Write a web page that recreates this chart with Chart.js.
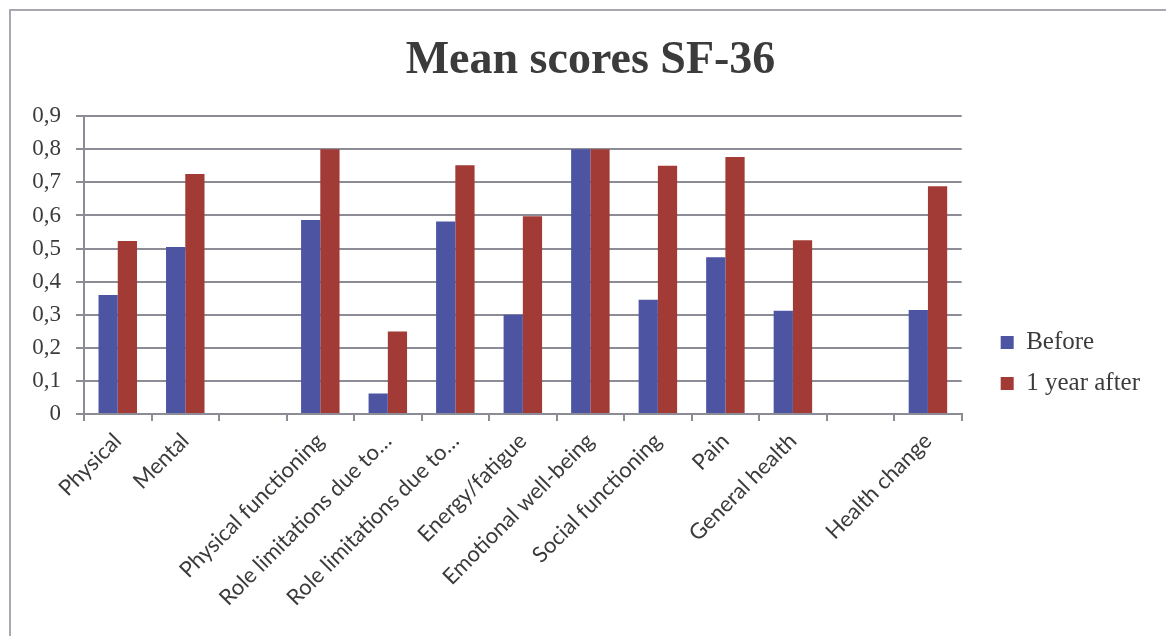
<!DOCTYPE html>
<html>
<head>
<meta charset="utf-8">
<script src="https://cdn.jsdelivr.net/npm/chart.js@4.4.1/dist/chart.umd.min.js"></script>
<style>
  html, body { margin: 0; padding: 0; background: #fff; overflow: hidden; }
  #frame {
    position: absolute; left: 9px; top: 9px; width: 1200px; height: 700px;
    border: 2px solid #a8a8b0; box-sizing: border-box;
  }
  #wrap { position: absolute; left: 0; top: 0; width: 1166px; height: 636px; }
</style>
</head>
<body>
<div id="frame"></div>
<div id="wrap"><canvas id="grafico"></canvas></div>
<script>
// Dados
const categorias = [
  "Physical", "Mental", "", "Physical functioning",
  "Role limitations due to…", "Role limitations due to…",
  "Energy/fatigue", "Emotional well-being", "Social functioning",
  "Pain", "General health", "", "Health change"
];
const antes = [0.36, 0.505, null, 0.586, 0.062, 0.582, 0.30, 0.80, 0.345, 0.474, 0.312, null, 0.314];
const depois = [0.523, 0.725, null, 0.80, 0.249, 0.752, 0.598, 0.80, 0.75, 0.777, 0.525, null, 0.688];
const nomesSeries = ["Before", "1 year after"];
const yTicks = [0, 0.1, 0.2, 0.3, 0.4, 0.5, 0.6, 0.7, 0.8, 0.9];

const corTexto = "#3b3b3b";
const corGrade = "#8c8c96";

// Legenda e título deslocados como no Excel
const ajustarCaixas = {
  id: "ajustarCaixas",
  afterLayout(chart) {
    const leg = chart.legend;
    if (leg) {
      leg.left += 23; leg.right += 23;
      leg.top += 45; leg.bottom += 45;
    }
    const tit = chart.titleBlock;
    if (tit) {
      tit.left += 27; tit.right += 27;
    }
  }
};

const ctx = document.getElementById("grafico").getContext("2d");
new Chart(ctx, {
  type: "bar",
  data: {
    labels: categorias,
    datasets: [
      { label: nomesSeries[0], data: antes, backgroundColor: "#4d55a3", borderWidth: 0 },
      { label: nomesSeries[1], data: depois, backgroundColor: "#a23b36", borderWidth: 0 }
    ]
  },
  plugins: [ajustarCaixas],
  options: {
    responsive: true,
    maintainAspectRatio: false,
    animation: false,
    categoryPercentage: 0.57,
    barPercentage: 1.0,
    layout: { padding: { left: 0, right: 39, top: 0, bottom: 0 } },
    plugins: {
      title: {
        display: true,
        text: "Mean scores SF-36",
        color: corTexto,
        font: { family: "Liberation Serif", size: 46, weight: "bold" },
        padding: { top: 34, bottom: 27 }
      },
      legend: {
        position: "right",
        labels: {
          color: corTexto,
          font: { family: "Liberation Serif", size: 25 },
          boxWidth: 13,
          boxHeight: 13,
          padding: 16
        }
      },
      tooltip: { enabled: false }
    },
    scales: {
      x: {
        grid: { offset: true, drawOnChartArea: false, drawTicks: true, tickLength: 7, color: corGrade, lineWidth: 2 },
        border: { color: corGrade, width: 2 },
        ticks: {
          color: corTexto,
          font: { family: "Lato", size: 22 },
          minRotation: 45, maxRotation: 45, autoSkip: false, padding: 7
        },
        afterFit: (s) => { s.height = 222; }
      },
      y: {
        min: 0, max: 0.9,
        afterBuildTicks: (s) => { s.ticks = yTicks.map(v => ({ value: v })); },
        grid: { color: corGrade, lineWidth: 2, tickLength: 8 },
        border: { color: corGrade, width: 2 },
        ticks: {
          color: corTexto,
          font: { family: "Liberation Serif", size: 23 },
          padding: 15,
          callback: (v) => v === 0 ? "0" : v.toFixed(1).replace(".", ",")
        },
        afterFit: (s) => { s.width = 84; }
      }
    }
  }
});
</script>
</body>
</html>
